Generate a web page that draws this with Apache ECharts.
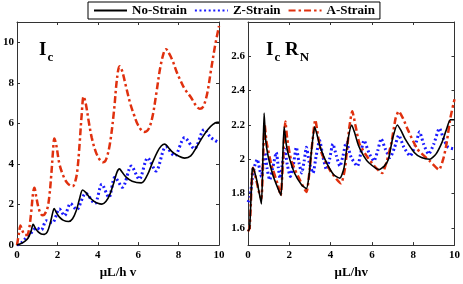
<!DOCTYPE html>
<html><head><meta charset="utf-8">
<script src="https://cdn.jsdelivr.net/npm/echarts@6/dist/echarts.min.js"></script>
<style>html,body{margin:0;padding:0;background:#fff}#c{width:463px;height:284px}</style>
</head><body><div id="c"></div>
<script>
// ---- Data (left panel: Ic) ----
const icNoX = [0,0.2,0.4,0.55,0.7,0.8,0.9,1.05,1.2,1.35,1.5,1.65,1.78,1.84,1.95,2.1,2.3,2.55,2.75,2.95,3.1,3.25,3.4,3.6,3.8,4.0,4.2,4.4,4.6,4.8,4.95,5.07,5.2,5.4,5.7,6.15,6.45,6.7,6.95,7.15,7.32,7.5,7.7,7.95,8.3,8.6,8.9,9.2,9.45,9.7,9.9,10];
const icNoY = [0,0.08,0.2,0.35,0.7,1.02,0.85,0.65,0.55,0.53,0.65,1.1,1.65,1.8,1.6,1.38,1.22,1.16,1.3,1.75,2.3,2.72,2.6,2.35,2.17,2.06,2.02,2.15,2.5,3.1,3.6,3.76,3.6,3.35,3.15,3.07,3.45,4.05,4.6,4.9,4.98,4.8,4.58,4.42,4.29,4.4,4.85,5.35,5.7,5.95,6.05,6.05];

const icZX = [0,0.2,0.4,0.6,0.75,0.95,1.2,1.45,1.75,2.1,2.35,2.65,2.95,3.4,3.85,4.2,4.55,4.85,5.22,5.66,6.05,6.47,6.88,7.37,7.8,8.3,8.78,9.27,9.6,10];
const icZY = [0,0.1,0.3,0.5,0.65,0.85,0.75,1.2,1.1,1.78,1.45,2.05,1.75,2.55,2.05,3.0,2.35,3.35,2.85,3.9,3.25,4.3,3.65,4.85,4.4,5.3,4.75,5.7,5.3,5.05];

const icAX = [0,0.1,0.17,0.25,0.4,0.5,0.6,0.7,0.8,0.86,0.95,1.05,1.15,1.25,1.35,1.5,1.6,1.7,1.78,1.85,1.95,2.1,2.3,2.5,2.75,2.9,3.0,3.1,3.2,3.3,3.4,3.55,3.7,3.9,4.1,4.25,4.4,4.6,4.8,4.95,5.08,5.2,5.4,5.6,5.8,6.0,6.3,6.5,6.7,6.9,7.1,7.3,7.38,7.5,7.7,7.9,8.1,8.3,8.6,8.85,9.05,9.2,9.4,9.6,9.8,10];
const icAY = [0,0.6,0.97,0.75,0.5,0.5,0.8,1.6,2.6,2.83,2.4,1.9,1.6,1.47,1.5,1.8,2.4,3.5,4.6,5.25,4.9,4.0,3.4,3.05,2.9,3.2,3.8,5.0,6.4,7.33,7.0,6.1,5.3,4.6,4.2,4.08,4.2,5.0,6.6,8.2,8.82,8.6,7.8,7.0,6.4,5.9,5.58,5.7,6.3,7.5,8.8,9.6,9.66,9.5,9.1,8.55,8.1,7.7,7.3,6.9,6.72,6.8,7.4,8.6,9.8,10.8];

// ---- Data (right panel: Ic RN) ----
const rnNoX = [0,0.08,0.2,0.24,0.4,0.55,0.65,0.72,0.78,0.85,0.97,1.2,1.45,1.6,1.68,1.75,1.85,1.95,2.25,2.6,2.83,2.95,3.1,3.23,3.35,3.5,3.8,4.15,4.45,4.65,4.85,5.02,5.15,5.35,5.6,5.85,6.35,6.6,6.8,7.0,7.23,7.4,7.6,8.05,8.4,8.8,9.1,9.4,9.6,9.8,10];
const rnNoY = [1.58,1.6,1.93,1.95,1.89,1.8,1.74,2.0,2.27,2.12,2.02,1.91,1.83,1.79,2.0,2.19,2.09,2.03,1.92,1.85,1.83,1.9,2.08,2.19,2.14,2.07,1.98,1.91,1.89,1.95,2.12,2.2,2.16,2.08,2.02,1.98,1.94,1.96,2.0,2.12,2.2,2.17,2.12,2.04,2.01,2.0,2.03,2.1,2.17,2.23,2.23];

const rnZX = [0,0.1,0.2,0.32,0.45,0.55,0.65,0.75,0.82,0.92,1.05,1.2,1.37,1.47,1.55,1.65,1.78,1.9,2.05,2.2,2.34,2.47,2.6,2.72,2.83,2.97,3.15,3.3,3.47,3.62,3.8,3.95,4.11,4.28,4.45,4.6,4.76,5.0,5.3,5.45,5.62,5.85,6.1,6.28,6.45,6.65,6.88,7.1,7.3,7.55,7.85,8.1,8.31,8.5,8.75,9.0,9.27,9.5,9.7,10];
const rnZY = [1.75,1.78,1.88,1.96,2.0,1.95,1.9,1.98,2.04,1.95,1.88,1.95,2.04,1.95,1.89,1.96,2.06,1.97,1.9,1.97,2.07,1.98,1.92,1.99,2.07,1.98,1.92,2.02,2.11,2.02,1.94,2.0,2.09,2.02,1.96,2.02,2.1,2.01,1.96,2.03,2.11,2.04,1.99,2.05,2.12,2.06,2.01,2.07,2.14,2.07,2.02,2.08,2.16,2.09,2.03,2.09,2.18,2.11,2.07,2.06];

const rnAX = [0,0.08,0.2,0.24,0.4,0.55,0.65,0.73,0.81,0.9,1.13,1.45,1.58,1.7,1.81,1.9,2.1,2.55,2.83,2.95,3.1,3.26,3.4,3.55,4.0,4.5,4.7,4.9,5.05,5.2,5.4,5.8,6.2,6.5,6.7,6.95,7.15,7.3,7.5,7.75,8.2,8.8,9.25,9.45,9.6,9.8,10];
const rnAY = [1.58,1.6,1.92,1.95,1.88,1.8,1.77,2.0,2.2,2.1,1.97,1.85,1.79,2.0,2.22,2.12,1.99,1.87,1.81,1.9,2.08,2.23,2.13,2.04,1.93,1.86,1.95,2.18,2.28,2.2,2.09,2.01,1.95,1.92,1.98,2.1,2.24,2.28,2.24,2.17,2.06,1.99,1.94,2.0,2.08,2.24,2.35];

const xTicks = [0,2,4,6,8,10];
const icTicks = [0,2,4,6,8,10];
const rnTicks = [1.6,1.8,2,2.2,2.4,2.6];
const seriesNames = ['No-Strain','Z-Strain','A-Strain'];
const xName = ['\u03bcL/h v','\u03bcL/hv'];

const zip = (xs, ys) => xs.map((x, i) => [x, ys[i]]);
const FONT = 'Liberation Serif';
const AX = '#333';
const fmt = v => String(+(+v).toFixed(1));

function bottomX(grid, name) {
  return { type:'value', gridIndex:grid, min:0, max:10, position:'bottom',
    name:name, nameLocation:'middle', nameGap:17,
    nameTextStyle:{fontFamily:FONT, fontWeight:'bold', fontSize:13, color:'#000'},
    axisLine:{show:true, onZero:false, lineStyle:{color:AX, width:1}},
    axisTick:{show:true, inside:true, length:3, customValues:xTicks, lineStyle:{color:AX}},
    axisLabel:{customValues:xTicks, formatter:fmt, margin:5, fontFamily:FONT, fontWeight:'bold', fontSize:11, color:'#000'},
    splitLine:{show:false} };
}
function topX(grid) {
  return { type:'value', gridIndex:grid, min:0, max:10, position:'top',
    axisLine:{show:true, onZero:false, lineStyle:{color:AX, width:1}},
    axisTick:{show:true, inside:true, length:3, customValues:xTicks, lineStyle:{color:AX}},
    axisLabel:{show:false}, splitLine:{show:false} };
}
function leftY(grid, min, max, ticks) {
  return { type:'value', gridIndex:grid, min:min, max:max, position:'left',
    axisLine:{show:true, onZero:false, lineStyle:{color:AX, width:1}},
    axisTick:{show:true, inside:true, length:3, customValues:ticks, lineStyle:{color:AX}},
    axisLabel:{customValues:ticks, formatter:fmt, margin:3, fontFamily:FONT, fontWeight:'bold', fontSize:11, color:'#000'},
    splitLine:{show:false} };
}
function rightY(grid, min, max, ticks) {
  return { type:'value', gridIndex:grid, min:min, max:max, position:'right',
    axisLine:{show:true, onZero:false, lineStyle:{color:AX, width:1}},
    axisTick:{show:true, inside:true, length:3, customValues:ticks, lineStyle:{color:AX}},
    axisLabel:{show:false}, splitLine:{show:false} };
}

const styles = [
  {color:'#000000', width:1.6, type:'solid'},
  {color:'#1a1aff', width:3, type:[2,2.6], cap:'butt'},
  {color:'#e0300e', width:2.5, type:[7,3,2.5,3], cap:'butt'}
];
function mk(name, data, xi, yi, k, smooth) {
  const s = styles[k];
  return { name:name, type:'line', xAxisIndex:xi, yAxisIndex:yi, data:data,
    showSymbol:false, symbol:'none', legendIcon:'none', smooth:smooth, animation:false,
    lineStyle:{color:s.color, width:s.width, type:s.type, cap:s.cap||'butt'},
    itemStyle:{color:s.color}, z: k===0?3:2 };
}

const chart = echarts.init(document.getElementById('c'), null, {renderer:'canvas'});
chart.setOption({
  animation:false,
  backgroundColor:'#fff',
  grid:[
    {left:14, top:22, width:205, height:226},
    {left:248, top:22, width:207, height:226}
  ],
  xAxis:[ bottomX(0, xName[0]), topX(0), bottomX(1, xName[1]), topX(1) ],
  yAxis:[ leftY(0, 0, 11, icTicks), rightY(0, 0, 11, icTicks), leftY(1, 1.5, 2.8, rnTicks), rightY(1, 1.5, 2.8, rnTicks) ],
  legend:{
    data:seriesNames, left:88, top:2, orient:'horizontal',
    itemWidth:33, itemHeight:12, itemGap:7,
    padding:[2,5,2,5], borderColor:'#000', borderWidth:1, backgroundColor:'#fff',
    itemStyle:{opacity:0},
    textStyle:{fontFamily:FONT, fontWeight:'bold', fontSize:13, color:'#000'},
    z:10
  },
  title:[
    {text:'{a|I}{b|c}', left:34, top:32, z:5,
      textStyle:{rich:{a:{fontFamily:FONT, fontWeight:'bold', fontSize:19, color:'#000'},
                       b:{fontFamily:FONT, fontWeight:'bold', fontSize:13, color:'#000', padding:[14,0,0,1]}}}},
    {text:'{a|I}{b|c}{a| R}{b|N}', left:261, top:32, z:5,
      textStyle:{rich:{a:{fontFamily:FONT, fontWeight:'bold', fontSize:19, color:'#000'},
                       b:{fontFamily:FONT, fontWeight:'bold', fontSize:13, color:'#000', padding:[14,0,0,1]}}}}
  ],
  series:[
    mk(seriesNames[0], zip(icNoX, icNoY), 0, 0, 0, 0.35),
    mk(seriesNames[1], zip(icZX, icZY), 0, 0, 1, 0.3),
    mk(seriesNames[2], zip(icAX, icAY), 0, 0, 2, 0.35),
    mk(seriesNames[0], zip(rnNoX, rnNoY), 2, 2, 0, 0.2),
    mk(seriesNames[1], zip(rnZX, rnZY), 2, 2, 1, 0.2),
    mk(seriesNames[2], zip(rnAX, rnAY), 2, 2, 2, 0.2)
  ]
});
</script></body></html>
